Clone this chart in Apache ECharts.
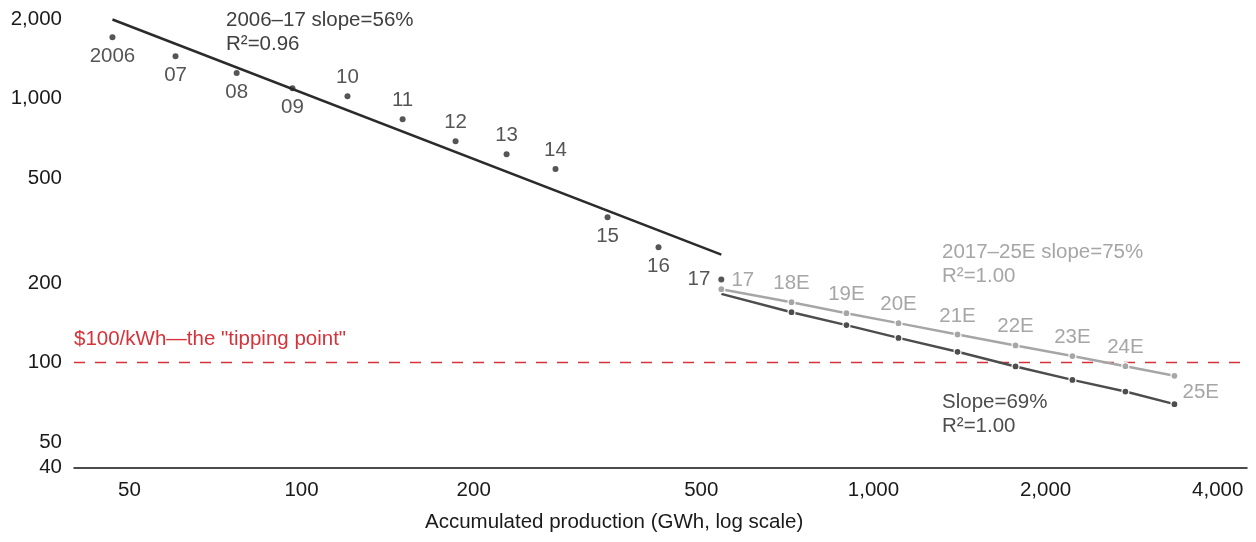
<!DOCTYPE html>
<html>
<head>
<meta charset="utf-8">
<script src="https://cdn.jsdelivr.net/npm/echarts@6/dist/echarts.min.js"></script>
<style>html,body{margin:0;padding:0;background:#fff}#c{width:1256px;height:542px}</style>
</head>
<body>
<div id="c"></div>
<script>
// ---- data ----
var histLabels = ['2006','07','08','09','10','11','12','13','14','15','16','17'];
var histX = [46.7, 60.2, 77.0, 96.4, 120.3, 150.2, 185.9, 228.3, 278, 342.8, 420.9, 542];
var histY = [1706, 1445, 1249, 1094, 1020, 835, 689, 615, 540, 355, 273, 206];
var fitX = [46.7, 542];
var fitY = [1991, 256];
var projLabels = ['17','18E','19E','20E','21E','22E','23E','24E','25E'];
var projX = [542, 719, 897, 1106, 1403, 1772, 2228, 2758, 3360];
var slope75Y = [189.5, 169.2, 153.7, 140.9, 127.6, 116, 105.7, 96.8, 89.0];
var slope69Y = [181.9, 155, 138.5, 123.9, 109.7, 96.6, 85.9, 77.6, 69.5];
var tippingPoint = 100;
var tippingX = [40, 4660];
var xTicks = [50, 100, 200, 500, 1000, 2000, 4000];
var yTicks = [40, 50, 100, 200, 500, 1000, 2000];

// ---- styles ----
var FONT = '"Liberation Sans", Arial, sans-serif';
var FS = 20.5;
var histLabelPos = ['bottom','bottom','bottom','bottom','top','top','top','top','top','bottom','bottom','left'];

function fmt(v){ return Number(v).toLocaleString('en-US'); }

var histData = histX.map(function(x, i){
  var p = histLabelPos[i];
  return {
    value: [x, histY[i]],
    label: { position: p, distance: p === 'left' ? 8 : (p === 'bottom' ? 6 : 5) }
  };
});
var g75Data = projX.map(function(x, i){
  var d = { value: [x, slope75Y[i]] };
  if (i === 0) d.label = { position: 'right', distance: 6, offset: [0, -9] };
  else if (i === projX.length - 1) d.label = { position: 'right', distance: 4, offset: [0, 17] };
  return d;
});
var g69Data = projX.map(function(x, i){
  var d = { value: [x, slope69Y[i]] };
  if (i === 0) d.symbolSize = 0;
  return d;
});

var chart = echarts.init(document.getElementById('c'), null, { renderer: 'canvas' });
chart.setOption({
  animation: false,
  backgroundColor: '#fff',
  textStyle: { fontFamily: FONT },
  grid: { left: 74, right: 9, top: 19, bottom: 74.5 },
  xAxis: {
    type: 'log', logBase: 10, min: 40, max: 4500,
    axisLine: { show: true, lineStyle: { color: '#111', width: 1.5 } },
    axisTick: { show: false },
    splitLine: { show: false },
    minorTick: { show: false },
    axisLabel: { customValues: xTicks, formatter: fmt, color: '#1a1a1a', fontSize: FS, fontFamily: FONT, margin: 12 }
  },
  yAxis: {
    type: 'log', logBase: 10, min: 40, max: 2000,
    axisLine: { show: false },
    axisTick: { show: false },
    splitLine: { show: false },
    axisLabel: { customValues: yTicks, formatter: fmt, color: '#1a1a1a', fontSize: FS, fontFamily: FONT, margin: 12 }
  },
  series: [
    {
      type: 'line', name: 'tipping', data: tippingX.map(function(x){ return [x, tippingPoint]; }),
      symbol: 'none', clip: false, silent: true,
      lineStyle: { color: '#d5333a', width: 1.6, type: [11, 10] }, z: 1
    },
    {
      type: 'line', name: 'fit', data: fitX.map(function(x, i){ return [x, fitY[i]]; }),
      symbol: 'none', lineStyle: { color: '#2b2b2b', width: 2.5 }, z: 2
    },
    {
      type: 'scatter', name: 'hist', data: histData, symbolSize: 6,
      itemStyle: { color: '#2b2b2b' }, z: 3,
      label: {
        show: true, color: '#2b2b2b', fontSize: FS, fontFamily: FONT,
        formatter: function(p){ return histLabels[p.dataIndex]; }
      }
    },
    {
      type: 'line', name: 'slope69', data: g69Data, symbol: 'circle', symbolSize: 7,
      lineStyle: { color: '#4d4d4d', width: 2.5 },
      itemStyle: { color: '#4d4d4d', borderColor: '#fff', borderWidth: 1.2 }, z: 4
    },
    {
      type: 'line', name: 'slope75', data: g75Data, symbol: 'circle', symbolSize: 7,
      lineStyle: { color: '#a6a6a6', width: 2.5 },
      itemStyle: { color: '#a6a6a6', borderColor: '#fff', borderWidth: 1.2 }, z: 5,
      label: {
        show: true, position: 'top', distance: 4, color: '#a6a6a6', fontSize: FS, fontFamily: FONT,
        formatter: function(p){ return projLabels[p.dataIndex]; }
      }
    }
  ],
  graphic: [
    { type: 'text', left: 226, top: 8, style: { text: '2006–17 slope=56%\nR²=0.96', fill: '#404040', font: FS + 'px ' + FONT, lineHeight: 24 } },
    { type: 'text', left: 942, top: 240.5, style: { text: '2017–25E slope=75%\nR²=1.00', fill: '#a6a6a6', font: FS + 'px ' + FONT, lineHeight: 24 } },
    { type: 'text', left: 942, top: 390, style: { text: 'Slope=69%\nR²=1.00', fill: '#4d4d4d', font: FS + 'px ' + FONT, lineHeight: 24 } },
    { type: 'text', left: 74, top: 329, style: { text: '$100/kWh—the "tipping point"', fill: '#d5333a', font: FS + 'px ' + FONT } },
    { type: 'text', left: 425, top: 512, style: { text: 'Accumulated production (GWh, log scale)', fill: '#1a1a1a', font: FS + 'px ' + FONT } }
  ]
});
</script>
</body>
</html>
